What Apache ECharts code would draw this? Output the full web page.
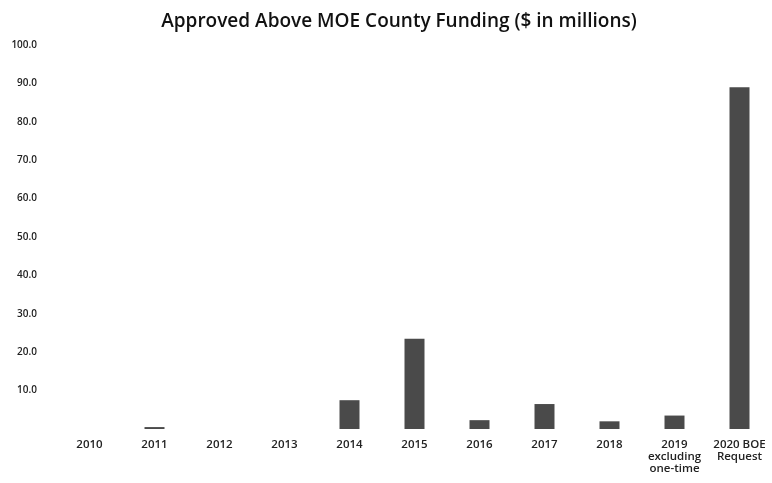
<!DOCTYPE html>
<html><head><meta charset="utf-8">
<script src="https://cdn.jsdelivr.net/npm/echarts@6/dist/echarts.min.js"></script>
<style>html,body{margin:0;padding:0;background:#fff}#c{width:772px;height:483px}</style>
</head><body><div id="c"></div>
<script>
const titleText = 'Approved Above MOE County Funding ($ in millions)';
const categories = ['2010','2011','2012','2013','2014','2015','2016','2017','2018','2019\nexcluding\none-time','2020 BOE\nRequest'];
const funding = [0, 0.5, 0, 0, 7.5, 23.5, 2.3, 6.5, 2.0, 3.5, 89.0];
const yMin = 0, yMax = 100, yStep = 10;

const chart = echarts.init(document.getElementById('c'));
chart.setOption({
  backgroundColor: '#fff',
  title: {
    text: titleText, left: 394, top: 7, textAlign: 'center',
    textStyle: {fontFamily: 'Open Sans', fontSize: 19, fontWeight: 600, color: '#111'}
  },
  grid: {left: 57, top: 45, width: 718, bottom: 54},
  xAxis: {
    type: 'category', data: categories,
    axisLine: {show: false}, axisTick: {show: false},
    axisLabel: {interval: 0, margin: 10, fontFamily: 'Open Sans', fontWeight: 600, fontSize: 11.5, color: '#222', lineHeight: 12}
  },
  yAxis: {
    type: 'value', min: yMin, max: yMax, interval: yStep,
    splitLine: {show: false}, axisLine: {show: false}, axisTick: {show: false},
    axisLabel: {margin: 20, fontFamily: 'Open Sans', fontWeight: 600, fontSize: 10, color: '#222',
      formatter: v => v === 0 ? '' : v.toFixed(1)}
  },
  series: [{
    type: 'bar', data: funding, barWidth: 20,
    itemStyle: {color: '#4a4a4a', borderWidth: 0},
    silent: true
  }]
});
</script></body></html>
